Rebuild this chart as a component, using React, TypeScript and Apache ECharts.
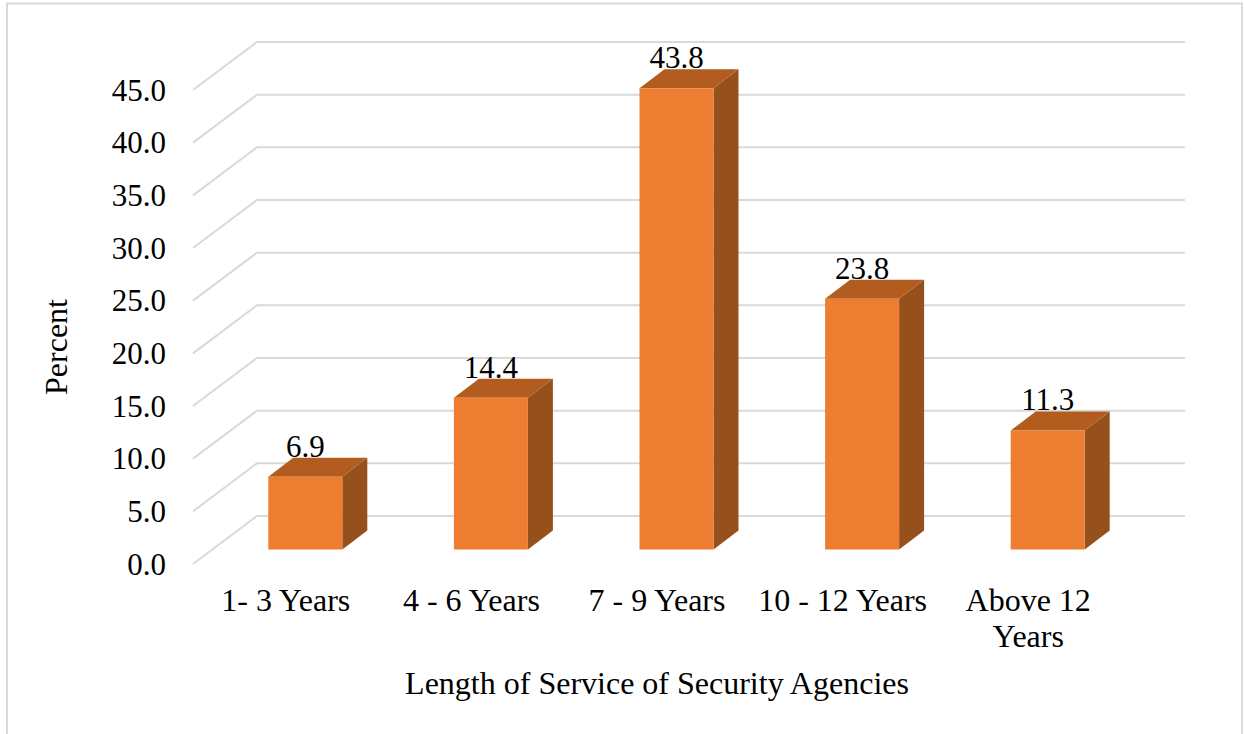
import React, { useEffect, useRef } from "react";
import * as echarts from "echarts";

const categories = ["1- 3 Years", "4 - 6 Years", "7 - 9 Years", "10 - 12 Years", "Above 12\nYears"];
const percentValues = [6.9, 14.4, 43.8, 23.8, 11.3];
const gridTicks = [0, 5, 10, 15, 20, 25, 30, 35, 40, 45];
const yAxisName = "Percent";
const xAxisName = "Length of Service of Security Agencies";

const FONT = '"Liberation Serif", "Times New Roman", serif';
const NUMBER_SIZE = 31;
const TEXT_SIZE = 32;
const INK = "#000000";

// Oblique offset of the chart floor, from front edge to back wall.
const WALL_DX = 64;
const WALL_DY = -48;
// Oblique offset of the bar's front face and the bar's own depth.
const FACE_DX = 19.5;
const FACE_DY = -14.5;
const BAR_DX = 25;
const BAR_DY = -19;
const BAR_WIDTH = 74;

const renderGridLine = (params: any, api: any) => {
  const sys = params.coordSys;
  const y = api.coord([0, api.value(1)])[1];
  return {
    type: "polyline",
    silent: true,
    shape: {
      points: [
        [sys.x, y],
        [sys.x + WALL_DX, y + WALL_DY],
        [sys.x + sys.width + WALL_DX, y + WALL_DY],
      ],
    },
    style: { stroke: "#d9d9d9", lineWidth: 2, fill: "none" },
  };
};

const renderBar = (_params: any, api: any) => {
  const value = api.value(1);
  const [cx, yTop] = api.coord([api.value(0), value]);
  const yBase = api.coord([api.value(0), 0])[1];
  const x0 = cx + FACE_DX - BAR_WIDTH / 2;
  const x1 = x0 + BAR_WIDTH;
  const top = yTop + FACE_DY;
  const base = yBase + FACE_DY;
  return {
    type: "group",
    children: [
      {
        type: "text",
        style: {
          text: value.toFixed(1),
          x: x0 + BAR_WIDTH / 2,
          y: top + BAR_DY + 4,
          align: "center",
          verticalAlign: "bottom",
          fontFamily: FONT,
          fontSize: NUMBER_SIZE,
          fill: INK,
        },
      },
      {
        type: "polygon",
        shape: { points: [[x1, top], [x1 + BAR_DX, top + BAR_DY], [x1 + BAR_DX, base + BAR_DY], [x1, base]] },
        style: { fill: "#95501c" },
      },
      {
        type: "polygon",
        shape: { points: [[x0, top], [x0 + BAR_DX, top + BAR_DY], [x1 + BAR_DX, top + BAR_DY], [x1, top]] },
        style: { fill: "#b35c20" },
      },
      {
        type: "rect",
        shape: { x: x0, y: top, width: BAR_WIDTH, height: base - top },
        style: { fill: "#ed7d31" },
      },
    ],
  };
};

export default function App() {
  const ref = useRef<HTMLDivElement>(null);

  useEffect(() => {
    const chart = echarts.init(ref.current, null, { renderer: "svg" });
    chart.setOption({
      animation: false,
      backgroundColor: "#ffffff",
      textStyle: { fontFamily: FONT },
      graphic: [
        {
          type: "polyline",
          silent: true,
          shape: { points: [[7, 734], [7, 3.5], [1242, 3.5], [1242, 734]] },
          style: { stroke: "#d9d9d9", lineWidth: 2, fill: "none" },
        },
      ],
      grid: { left: 193, right: 123, top: 90, bottom: 170 },
      xAxis: {
        type: "category",
        data: categories,
        name: xAxisName,
        nameLocation: "middle",
        nameGap: 103,
        nameTextStyle: { fontFamily: FONT, fontSize: TEXT_SIZE, color: INK },
        axisLine: { show: false },
        axisTick: { show: false },
        axisLabel: {
          interval: 0,
          margin: 18,
          fontFamily: FONT,
          fontSize: TEXT_SIZE,
          color: INK,
          lineHeight: 36,
        },
      },
      yAxis: {
        type: "value",
        min: 0,
        max: 45,
        interval: 5,
        name: yAxisName,
        nameLocation: "middle",
        nameGap: 121,
        nameTextStyle: { fontFamily: FONT, fontSize: TEXT_SIZE, color: INK, padding: [0, 40, 0, 0] },
        splitLine: { show: false },
        axisLine: { show: false },
        axisTick: { show: false },
        axisLabel: {
          margin: 27,
          padding: [0, 0, 2, 0],
          fontFamily: FONT,
          fontSize: NUMBER_SIZE,
          color: INK,
          formatter: (v: number) => v.toFixed(1),
        },
      },
      series: [
        {
          type: "custom",
          z: 1,
          silent: true,
          renderItem: renderGridLine,
          encode: { x: 0, y: 1 },
          data: gridTicks.map((v) => [0, v]),
        },
        {
          type: "custom",
          z: 2,
          renderItem: renderBar,
          encode: { x: 0, y: 1 },
          data: percentValues.map((v, i) => [i, v]),
        },
      ],
    });
    return () => chart.dispose();
  }, []);

  return <div ref={ref} style={{ position: "fixed", left: 0, top: 0, width: 1244, height: 734 }} />;
}
